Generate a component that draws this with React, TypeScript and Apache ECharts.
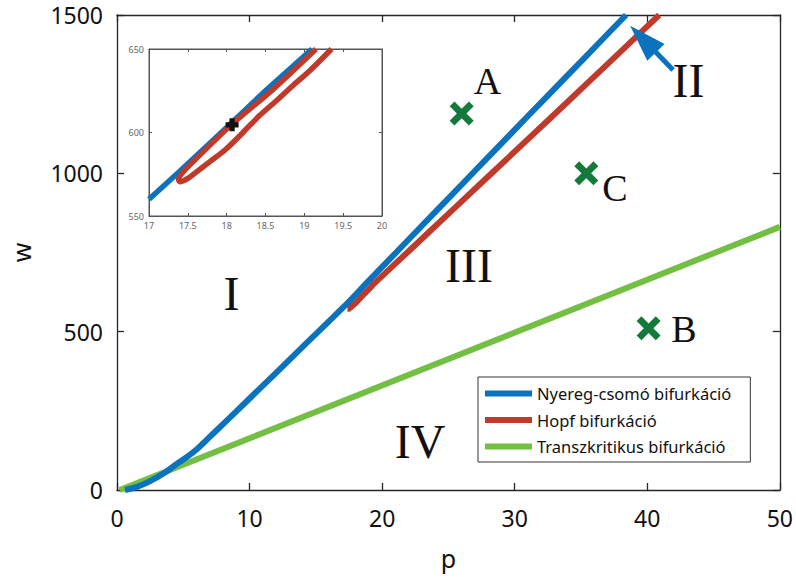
import React, { useEffect, useRef } from 'react';
import * as echarts from 'echarts';

// ---- data ----
const xTicksMain = [0, 10, 20, 30, 40, 50];
const yTicksMain = [0, 500, 1000, 1500];

// Saddle-node (Nyereg-csomó) bifurcation curve
const blueP = [0.6, 1.5, 2.5, 3.5, 4.5, 5.2, 6, 6.8, 8, 10, 12, 14, 17, 19, 22, 25, 28, 31, 34, 36.5, 38.4];
const blueW = [0, 10, 28, 52, 82, 102, 128, 160, 208, 289, 370, 452, 574, 661, 791, 921, 1051, 1181, 1310, 1418, 1500];

// Hopf bifurcation curve (main plot, lower branch)
const redP = [17.38, 17.4, 17.5, 17.6, 17.78, 17.99, 18.21, 18.42, 18.64, 18.85, 19.07, 19.35, 22, 25, 28, 31, 34, 37, 40.9];
const redW = [572, 570.5, 572.5, 576, 582.4, 590, 600, 610, 619, 628, 637, 650, 754, 872, 990, 1108, 1226, 1345, 1500];

// Transcritical bifurcation line
const greenP = [0.2, 50];
const greenW = [0, 831];

// Marked parameter points
const pointNames = ['A', 'B', 'C'];
const pointP = [26.0, 40.1, 35.4];
const pointW = [1189, 511, 1000];

// Inset data
const insetBlueP = [17.0, 17.4, 18.0, 18.5, 19.1];
const insetBlueW = [560, 577, 603, 625, 650];
const insetRedP = [19.15, 18.6, 18.06, 17.6, 17.45, 17.38, 17.4, 17.5, 17.6, 17.78, 17.99, 18.21, 18.42, 18.64, 18.85, 19.07, 19.35];
const insetRedW = [650, 626, 604.6, 584, 577, 572, 570.5, 572.5, 576, 582.4, 590, 600, 610, 619, 628, 637, 650];
const btPoint = [18.07, 604.6];

// Arrow annotation (from, to-head-centre) in data coordinates
const arrowFrom = [41.95, 1326];
const arrowTo = [39.68, 1424];

// Region labels
const regionLabels = ['I', 'II', 'III', 'IV'];

const seriesNames = ['Nyereg-csomó bifurkáció', 'Hopf bifurkáció', 'Transzkritikus bifurkáció'];

const BLUE = '#0b72bd';
const RED = '#bf3a2b';
const GREEN = '#72bf44';
const DKGREEN = '#137a3b';
const SANS = '"Noto Sans", "Open Sans", sans-serif';
const SERIF = '"Liberation Serif", "Times New Roman", serif';

const zip = (a: number[], b: number[]) => a.map((v, i) => [v, b[i]]);

const X_PATH = 'path://M0,2 L2,0 L5,3 L8,0 L10,2 L7,5 L10,8 L8,10 L5,7 L2,10 L0,8 L3,5 Z';
const PLUS_PATH = 'path://M3,0 H7 V3 H10 V7 H7 V10 H3 V7 H0 V3 H3 Z';

function buildOption() {
  const axisColor = '#262626';
  const insetColor = '#555';
  const plain = (v: number) => String(v);
  const mainX = (pos: 'bottom' | 'top', labels: boolean) => ({
    gridIndex: 0,
    type: 'value',
    position: pos,
    min: xTicksMain[0],
    max: xTicksMain[xTicksMain.length - 1],
    interval: 10,
    axisLine: { show: true, onZero: false, lineStyle: { color: axisColor, width: 1.3 } },
    axisTick: { show: true, inside: true, length: 7, lineStyle: { color: axisColor, width: 1.3 } },
    axisLabel: { show: labels, fontSize: 23, color: '#111', margin: 16, fontFamily: SANS, formatter: plain },
    splitLine: { show: false },
    ...(labels
      ? { name: 'p', nameLocation: 'middle', nameGap: 55, nameTextStyle: { fontSize: 25, color: '#111', fontFamily: SANS } }
      : {}),
  });
  const mainY = (pos: 'left' | 'right', labels: boolean) => ({
    gridIndex: 0,
    type: 'value',
    position: pos,
    min: yTicksMain[0],
    max: yTicksMain[yTicksMain.length - 1],
    interval: 500,
    axisLine: { show: true, onZero: false, lineStyle: { color: axisColor, width: 1.3 } },
    axisTick: { show: true, inside: true, length: 7, lineStyle: { color: axisColor, width: 1.3 } },
    axisLabel: { show: labels, fontSize: 23, color: '#111', margin: 14, fontFamily: SANS, formatter: plain },
    splitLine: { show: false },
    ...(labels
      ? { name: 'w', nameLocation: 'middle', nameGap: 84, nameTextStyle: { fontSize: 25, color: '#111', fontFamily: SANS } }
      : {}),
  });
  const insetX = (pos: 'bottom' | 'top', labels: boolean) => ({
    gridIndex: 1,
    type: 'value',
    position: pos,
    min: 17,
    max: 20,
    interval: 0.5,
    axisLine: { show: true, onZero: false, lineStyle: { color: insetColor, width: 1 } },
    axisTick: { show: true, inside: true, length: 3, lineStyle: { color: insetColor } },
    axisLabel: { show: labels, fontSize: 9, color: '#666', margin: 5, fontFamily: SANS, formatter: plain },
    splitLine: { show: false },
  });
  const insetY = (pos: 'left' | 'right', labels: boolean) => ({
    gridIndex: 1,
    type: 'value',
    position: pos,
    min: 550,
    max: 650,
    interval: 50,
    axisLine: { show: true, onZero: false, lineStyle: { color: insetColor, width: 1 } },
    axisTick: { show: true, inside: true, length: 3, lineStyle: { color: insetColor } },
    axisLabel: { show: labels, fontSize: 9, color: '#666', margin: 5, fontFamily: SANS, formatter: plain },
    splitLine: { show: false },
  });

  const textEl = (text: string, x: number, y: number, size: number) => ({
    type: 'text',
    x,
    y,
    z: 10,
    style: { text, font: `${size}px ${SERIF}`, fill: '#111', align: 'center', verticalAlign: 'middle' },
  });

  return {
    animation: false,
    backgroundColor: '#fff',
    textStyle: { fontFamily: SANS },
    grid: [
      { left: 117, top: 15, width: 665, height: 475, show: false },
      { left: 149, top: 49, width: 233, height: 167, show: true, backgroundColor: '#fff', borderColor: insetColor, borderWidth: 1 },
    ],
    xAxis: [mainX('bottom', true), mainX('top', false), insetX('bottom', true), insetX('top', false)],
    yAxis: [mainY('left', true), mainY('right', false), insetY('left', true), insetY('right', false)],
    legend: {
      orient: 'vertical',
      left: 478,
      top: 377,
      padding: [8, 19, 7, 7],
      itemGap: 9.5,
      itemWidth: 47,
      itemHeight: 6,
      borderColor: '#333',
      borderWidth: 1,
      backgroundColor: '#fff',
      textStyle: { fontSize: 16.5, color: '#111', fontFamily: SANS },
      data: seriesNames.map((n) => ({ name: n, icon: 'rect' })),
    },
    series: [
      {
        name: seriesNames[2],
        type: 'line',
        xAxisIndex: 0,
        yAxisIndex: 0,
        data: zip(greenP, greenW),
        symbol: 'none',
        color: GREEN,
        lineStyle: { color: GREEN, width: 6 },
        z: 2,
      },
      {
        name: seriesNames[1],
        type: 'line',
        xAxisIndex: 0,
        yAxisIndex: 0,
        data: zip(redP, redW),
        symbol: 'none',
        smooth: 0.2,
        color: RED,
        lineStyle: { color: RED, width: 6 },
        z: 3,
      },
      {
        name: seriesNames[0],
        type: 'line',
        xAxisIndex: 0,
        yAxisIndex: 0,
        data: zip(blueP, blueW),
        symbol: 'none',
        smooth: 0.4,
        color: BLUE,
        lineStyle: { color: BLUE, width: 6 },
        z: 4,
        markLine: {
          silent: true,
          symbol: ['none', 'triangle'],
          symbolSize: [24, 37],
          label: { show: false },
          lineStyle: { color: BLUE, width: 5, type: 'solid' },
          itemStyle: { color: BLUE },
          data: [[{ coord: arrowFrom }, { coord: arrowTo }]],
        },
      },
      {
        name: 'points',
        type: 'scatter',
        xAxisIndex: 0,
        yAxisIndex: 0,
        symbol: X_PATH,
        symbolSize: 24,
        itemStyle: { color: DKGREEN, opacity: 1 },
        data: pointNames.map((n, i) => ({ name: n, value: [pointP[i], pointW[i]] })),
        z: 5,
      },
      {
        name: 'inset-blue',
        type: 'line',
        xAxisIndex: 2,
        yAxisIndex: 2,
        data: zip(insetBlueP, insetBlueW),
        symbol: 'none',
        lineStyle: { color: BLUE, width: 5.5 },
        z: 6,
      },
      {
        name: 'inset-red',
        type: 'line',
        xAxisIndex: 2,
        yAxisIndex: 2,
        data: zip(insetRedP, insetRedW),
        symbol: 'none',
        smooth: 0.3,
        lineStyle: { color: RED, width: 5.5 },
        z: 7,
      },
      {
        name: 'inset-bt',
        type: 'scatter',
        xAxisIndex: 2,
        yAxisIndex: 2,
        symbol: PLUS_PATH,
        symbolSize: 13,
        itemStyle: { color: '#111', opacity: 1 },
        data: [btPoint],
        z: 8,
      },
    ],
    graphic: [
      textEl(regionLabels[0], 231.5, 293, 48),
      textEl(regionLabels[1], 688.5, 80, 48),
      textEl(regionLabels[2], 469, 265.5, 48),
      textEl(regionLabels[3], 420, 441, 48),
      textEl(pointNames[0], 487.5, 80.5, 38),
      textEl(pointNames[1], 684, 328.5, 38),
      textEl(pointNames[2], 615, 188, 38),
    ],
  };
}

export default function App() {
  const ref = useRef<HTMLDivElement>(null);
  useEffect(() => {
    document.body.style.margin = '0';
    const chart = echarts.init(ref.current!, null, { renderer: 'svg' });
    chart.setOption(buildOption() as any);
    return () => chart.dispose();
  }, []);
  return <div ref={ref} style={{ width: 796, height: 578 }} />;
}
